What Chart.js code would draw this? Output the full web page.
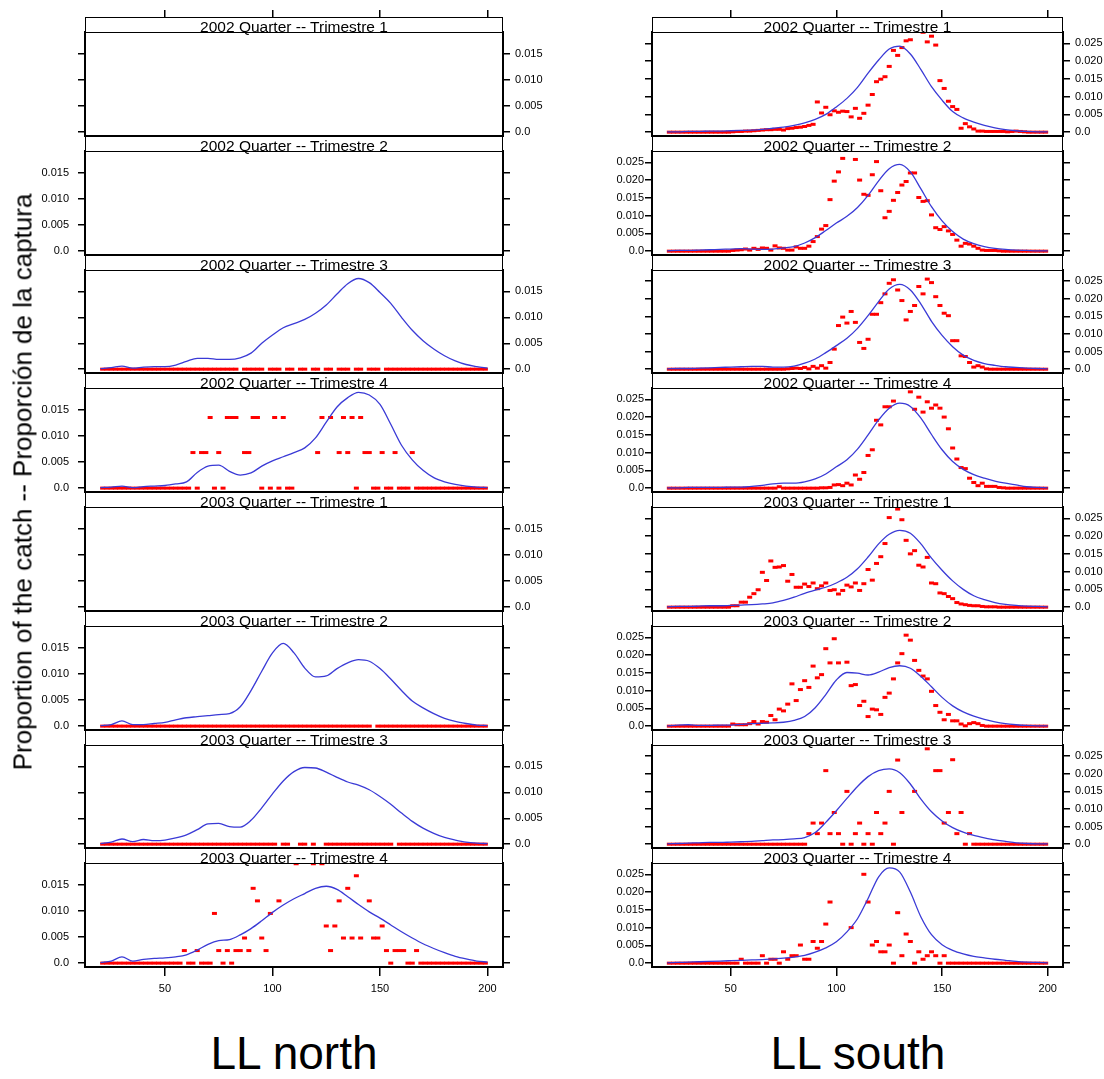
<!DOCTYPE html>
<html>
<head>
<meta charset="utf-8">
<title>LL north / LL south</title>
<script src="https://cdn.jsdelivr.net/npm/chart.js@4.4.1/dist/chart.umd.min.js"></script>
<style>
  body { margin: 0; background: #fff; font-family: "Liberation Sans", Arial, Helvetica, sans-serif; }
  #page { position: relative; width: 1104px; height: 1079px; overflow: hidden; background: #fff; }
  #page canvas { position: absolute; }
  .strip {
    position: absolute; box-sizing: border-box; border: 1px solid #000; background: #fff;
    text-align: center; font-size: 15.5px; line-height: 17px; color: #000; white-space: nowrap; z-index: 2;
  }
  #ytitle {
    position: absolute; left: 23px; top: 482px; transform: translate(-50%, -50%) rotate(-90deg);
    font-size: 26px; white-space: nowrap; color: #000; z-index: 3;
  }
  .colname { position: absolute; top: 1026px; font-size: 46px; transform: translateX(-50%); white-space: nowrap; color: #000; }
</style>
</head>
<body>
<div id="page">
  <div id="ytitle">Proportion of the catch -- Proporción de la captura</div>
  <div class="colname" style="left:294px">LL north</div>
  <div class="colname" style="left:858px">LL south</div>
</div>
<script>
// length classes (cm) of the observed proportions
const LENGTHS = [21,23,25,27,29,31,33,35,37,39,
  41,43,45,47,49,51,53,55,57,59,
  61,63,65,67,69,71,73,75,77,79,
  81,83,85,87,89,91,93,95,97,99,
  101,103,105,107,109,111,113,115,117,119,
  121,123,125,127,129,131,133,135,137,139,
  141,143,145,147,149,151,153,155,157,159,
  161,163,165,167,169,171,173,175,177,179,
  181,183,185,187,189,191,193,195,197,199];

// lengths at which the smoothed curve is given
const FIT_LENGTHS = [20,25,30,35,40,45,50,55,60,65,70,75,80,85,90,95,100,105,110,115,
  120,125,130,135,140,145,150,155,160,165,170,175,180,185,190,195,200];

const QUARTERS = ['2002 Quarter -- Trimestre 1', '2002 Quarter -- Trimestre 2',
  '2002 Quarter -- Trimestre 3', '2002 Quarter -- Trimestre 4',
  '2003 Quarter -- Trimestre 1', '2003 Quarter -- Trimestre 2',
  '2003 Quarter -- Trimestre 3', '2003 Quarter -- Trimestre 4'];

const X_TICKS = [50, 100, 150, 200];
const NORTH_Y_TICKS = [0, 0.005, 0.010, 0.015];
const NORTH_Y_LABELS = ['0.0', '0.005', '0.010', '0.015'];
const SOUTH_Y_TICKS = [0, 0.005, 0.010, 0.015, 0.020, 0.025];
const SOUTH_Y_LABELS = ['0.0', '0.005', '0.010', '0.015', '0.020', '0.025'];

// ---- LL north ----
const N02Q3_OBS = [0,0,0,0,0,0,0,0,0,0,
  0,0,0,0,0,0,0,0,0,0,
  0,0,0,0,0,0,0,0,0,0,
  0,0,0.03,0,0,0,0,0,0.03,0,
  0,0,0.03,0,0,0.03,0,0,0.03,0,
  0,0.03,0,0,0.03,0,0,0,0.03,0,
  0,0.03,0,0,0,0.03,0,0,0,0,
  0,0,0,0,0,0,0,0,0,0,
  0,0,0,0,0,0,0,0,0,0];
const N02Q3_FIT = [0.0001,0.0003,0.0006,0.0002,0.0004,0.0005,0.0005,0.0008,0.0015,0.0021,
  0.0021,0.0019,0.0019,0.0022,0.0031,0.0050,0.0066,0.0080,0.0088,0.0096,
  0.0108,0.0124,0.0145,0.0165,0.0175,0.0167,0.0148,0.0127,0.0100,0.0075,
  0.0055,0.0039,0.0026,0.0016,0.0009,0.0005,0.0002];

const N02Q4_OBS = [0,0,0,0,0,0,0,0,0,0,
  0,0,0,0,0,0,0,0,0,0,
  0,0.0068,0,0.0068,0.0068,0.0135,0,0.0068,0,0.0135,
  0.0135,0.0135,0.0203,0.0068,0.0068,0.0135,0.0135,0,0.0203,0,
  0.0135,0,0.0135,0,0,0.0203,0.0203,0.0203,0.0203,0.0203,
  0.0068,0.0135,0.0203,0.0135,0.0203,0.0068,0.0135,0.0068,0.0135,0,
  0.0135,0.0068,0.0068,0,0,0.0068,0,0,0.0068,0,
  0,0,0.0068,0,0,0,0,0,0,0,
  0,0,0,0,0,0,0,0,0,0];
const N02Q4_FIT = [0.0001,0.0002,0.0004,0.0001,0.0003,0.0004,0.0005,0.0008,0.0012,0.0030,
  0.0042,0.0044,0.0032,0.0025,0.0029,0.0042,0.0052,0.0060,0.0068,0.0077,
  0.0096,0.0126,0.0155,0.0173,0.0183,0.0178,0.0160,0.0122,0.0082,0.0054,
  0.0034,0.0020,0.0012,0.0007,0.0004,0.0002,0.0001];

const N03Q2_OBS = [0,0,0,0,0,0,0,0,0,0,
  0,0,0,0,0,0,0,0,0,0,
  0,0,0,0,0,0,0,0,0,0,
  0,0,0,0,0,0,0,0,0,0,
  0,0,0,0,0,0,0,0,0,0,
  0,0,0,0,0,0,0,0,0,0,
  0,0,0,0.03,0,0,0,0,0,0,
  0,0,0,0,0,0,0,0,0,0,
  0,0,0,0,0,0,0,0,0,0];
const N03Q2_FIT = [0.0001,0.0003,0.0010,0.0003,0.0003,0.0005,0.0007,0.0012,0.0016,0.0018,
  0.0020,0.0022,0.0024,0.0037,0.0068,0.0105,0.0140,0.0158,0.0140,0.0111,
  0.0094,0.0096,0.0110,0.0121,0.0127,0.0124,0.0110,0.0090,0.0068,0.0048,
  0.0035,0.0024,0.0015,0.0009,0.0005,0.0002,0.0001];

const N03Q3_OBS = [0,0,0,0,0,0,0,0,0,0,
  0,0,0,0,0,0,0,0,0,0,
  0,0,0,0,0,0,0,0,0,0,
  0,0,0,0,0,0,0,0,0,0,
  0,0.03,0,0,0.03,0.03,0,0,0.03,0,
  0.03,0.03,0,0,0,0,0,0,0,0,
  0,0,0,0,0,0,0,0,0.03,0,
  0,0,0,0,0,0,0,0,0,0,
  0,0,0,0,0,0,0,0,0,0];
const N03Q3_FIT = [0.0001,0.0004,0.0010,0.0005,0.0009,0.0007,0.0008,0.0012,0.0018,0.0028,
  0.0039,0.0040,0.0034,0.0033,0.0046,0.0070,0.0097,0.0122,0.0140,0.0148,
  0.0147,0.0139,0.0129,0.0120,0.0114,0.0105,0.0092,0.0077,0.0060,0.0044,
  0.0031,0.0021,0.0013,0.0008,0.0004,0.0002,0.0001];

const N03Q4_OBS = [0,0,0,0,0,0,0,0,0,0,
  0,0,0,0,0,0,0,0,0,0.0024,
  0,0,0.0024,0,0,0,0.0095,0.0024,0,0.0024,
  0,0.0024,0.0024,0.0048,0.0024,0.0143,0.0119,0.0048,0.0024,0.0095,
  0.0214,0.0119,0.0214,0.0214,0.0214,0.019,0.0214,0.0214,0.0214,0.019,
  0.0214,0.019,0.0071,0.0024,0.0071,0.0119,0.0048,0.0143,0.0048,0.0167,
  0.0048,0.0214,0.0119,0.0048,0.0048,0.0071,0.0024,0,0.0024,0.0024,
  0.0024,0,0,0.0024,0,0,0,0,0,0,
  0,0,0,0,0,0,0,0,0,0];
const N03Q4_FIT = [0.0001,0.0004,0.0012,0.0004,0.0007,0.0009,0.0010,0.0012,0.0016,0.0025,
  0.0036,0.0043,0.0045,0.0054,0.0066,0.0081,0.0097,0.0111,0.0123,0.0133,
  0.0143,0.0147,0.0141,0.0127,0.0112,0.0098,0.0086,0.0073,0.0060,0.0048,
  0.0037,0.0028,0.0020,0.0013,0.0008,0.0004,0.0002];

// ---- LL south ----
const S02Q1_OBS = [0,0,0,0,0,0,0,0,0,0,
  0,0,0,0,0,0.0001,0.0002,0.0002,0.0003,0.0003,
  0.0004,0.0005,0.0006,0.0007,0.0007,0.0008,0.0008,0.0006,0.0010,0.0011,
  0.0013,0.0014,0.0016,0.0019,0.0022,0.0085,0.0054,0.0070,0.0049,0.0060,
  0.0056,0.0059,0.0058,0.0043,0.0067,0.0039,0.0053,0.0076,0.0106,0.0142,
  0.0149,0.0156,0.0185,0.0230,0.0216,0.0238,0.0257,0.0260,0.0300,0.0300,
  0.0281,0.0254,0.0270,0.0245,0.0145,0.0123,0.0087,0.0072,0.0064,0.0011,
  0.0024,0.0015,0.0009,0.0003,0.0003,0.0002,0.0002,0.0002,0.0002,0.0002,
  0.0001,0.0002,0.0003,0.0002,0.0001,0,0,0,0,0];
const S02Q1_FIT = [0.0001,0.0001,0.0002,0.0002,0.0003,0.0003,0.0004,0.0005,0.0006,0.0008,
  0.0011,0.0014,0.0019,0.0026,0.0036,0.0050,0.0071,0.0095,0.0126,0.0166,
  0.0203,0.0234,0.0242,0.0220,0.0176,0.0128,0.0090,0.0058,0.0040,0.0028,
  0.0019,0.0012,0.0007,0.0004,0.0002,0.0001,0.0001];

const S02Q2_OBS = [0,0,0,0,0,0,0,0,0,0,
  0,0,0,0,0,0.0002,0.0003,0.0004,0.0006,0.0003,
  0.0008,0.0005,0.0009,0.0008,0.0003,0.0015,0.0009,0.0008,0.0003,0.0003,
  0.0012,0.0008,0.0008,0.0014,0.0027,0.0041,0.0062,0.0072,0.0145,0.0197,
  0.0223,0.0261,0.0310,0.0310,0.0258,0.0200,0.0160,0.0157,0.0215,0.0252,
  0.0170,0.0094,0.0112,0.0143,0.0165,0.0186,0.0196,0.0220,0.0220,0.0151,
  0.0140,0.0142,0.0102,0.0066,0.0061,0.0069,0.0057,0.0047,0.0031,0.0014,
  0.0022,0.0020,0.0014,0.0008,0.0003,0.0002,0.0002,0.0002,0.0001,0,
  0,0,0,0,0,0,0,0,0,0];
const S02Q2_FIT = [0.0001,0.0002,0.0002,0.0003,0.0004,0.0005,0.0006,0.0007,0.0006,0.0005,
  0.0006,0.0009,0.0013,0.0023,0.0038,0.0058,0.0079,0.0098,0.0123,0.0157,
  0.0198,0.0232,0.0244,0.0223,0.0175,0.0125,0.0085,0.0055,0.0034,0.0021,
  0.0013,0.0008,0.0005,0.0003,0.0002,0.0001,0.0001];

const S02Q3_OBS = [0,0,0,0,0,0,0,0,0,0,
  0,0,0,0,0,0,0,0,0,0,
  0,0,0,0,0,0,0,0,0.0001,0.0002,
  0.0003,0.0002,0.0005,0.0001,0.0008,0.0003,0.0010,0.0003,0.0019,0.0057,
  0.0124,0.0148,0.0131,0.0164,0.0133,0.0076,0.0059,0.0085,0.0156,0.0156,
  0.0189,0.0214,0.0244,0.0254,0.0225,0.0195,0.0140,0.0164,0.0181,0.0235,
  0.0214,0.0256,0.0246,0.0206,0.0181,0.0159,0.0152,0.0081,0.0081,0.0038,
  0.0036,0.0019,0.0006,0.0010,0.0006,0.0001,0,0,0,0,
  0,0,0,0,0,0,0,0,0,0];
const S02Q3_FIT = [0.0001,0.0002,0.0002,0.0003,0.0004,0.0005,0.0006,0.0007,0.0008,0.0008,
  0.0006,0.0006,0.0009,0.0017,0.0029,0.0047,0.0067,0.0088,0.0116,0.0152,
  0.0192,0.0228,0.0241,0.0225,0.0185,0.0136,0.0096,0.0064,0.0040,0.0025,
  0.0016,0.0011,0.0007,0.0005,0.0003,0.0002,0.0001];

const S02Q4_OBS = [0,0,0,0,0,0,0,0,0,0,
  0,0,0,0,0,0,0,0,0,0,
  0,0,0,0,0,0,0.0004,0,0,0,
  0,0,0,0,0,0,0.0001,0.0001,0.0002,0.0009,
  0.0010,0.0007,0.0014,0.0009,0.0037,0.0025,0.0044,0.0092,0.0108,0.0191,
  0.0178,0.0229,0.0229,0.0245,0.0300,0.0300,0.0300,0.0271,0.0222,0.0256,
  0.0214,0.0243,0.0225,0.0234,0.0225,0.0200,0.0167,0.0113,0.0082,0.0058,
  0.0055,0.0028,0.0016,0.0007,0.0014,0.0005,0.0005,0.0005,0.0002,0.0001,
  0,0,0,0,0,0,0,0,0,0];
const S02Q4_FIT = [0.0001,0.0001,0.0002,0.0002,0.0002,0.0002,0.0003,0.0003,0.0005,0.0008,
  0.0012,0.0014,0.0014,0.0018,0.0026,0.0040,0.0060,0.0080,0.0110,0.0150,
  0.0192,0.0225,0.0239,0.0230,0.0197,0.0151,0.0108,0.0075,0.0053,0.0038,
  0.0028,0.0020,0.0014,0.0009,0.0004,0.0002,0.0001];

const S03Q1_OBS = [0,0,0,0,0,0,0,0,0,0,
  0,0,0,0,0,0.0004,0.0004,0.0014,0.0014,0.0028,
  0.0038,0.0049,0.0098,0.0075,0.0130,0.0112,0.0113,0.0117,0.0073,0.0092,
  0.0056,0.0056,0.0065,0.0058,0.0068,0.0052,0.0060,0.0068,0.0047,0.0049,
  0.0037,0.0047,0.0062,0.0057,0.0068,0.0047,0.0066,0.0106,0.0076,0.0123,
  0.0142,0.0179,0.0252,0.0286,0.0276,0.0246,0.0188,0.0150,0.0159,0.0118,
  0.0113,0.0140,0.0068,0.0066,0.0040,0.0038,0.0030,0.0024,0.0013,0.0009,
  0.0007,0.0005,0.0004,0.0004,0.0002,0.0001,0.0001,0.0001,0,0,
  0,0,0,0,0,0,0,0,0,0];
const S03Q1_FIT = [0.0001,0.0002,0.0002,0.0003,0.0004,0.0004,0.0005,0.0006,0.0007,0.0009,
  0.0012,0.0019,0.0028,0.0039,0.0048,0.0056,0.0068,0.0084,0.0108,0.0141,
  0.0178,0.0205,0.0216,0.0208,0.0178,0.0138,0.0104,0.0074,0.0050,0.0032,
  0.0021,0.0013,0.0008,0.0005,0.0003,0.0002,0.0001];

const S03Q2_OBS = [0,0,0,0,0,0,0,0,0,0,
  0,0,0,0,0,0.0006,0.0004,0.0004,0.0004,0.0007,
  0.0013,0.0006,0.0013,0.0011,0.0030,0.0018,0.0048,0.0043,0.0062,0.0119,
  0.0072,0.0103,0.0128,0.0109,0.0169,0.0136,0.0145,0.0218,0.0178,0.0246,
  0.0178,0.0310,0.0180,0.0114,0.0117,0.0058,0.0070,0.0027,0.0048,0.0046,
  0.0033,0.0081,0.0093,0.0133,0.0178,0.0204,0.0256,0.0242,0.0185,0.0157,
  0.0141,0.0133,0.0098,0.0058,0.0039,0.0018,0.0033,0.0015,0.0015,0.0006,
  0.0001,0.0007,0.0010,0.0007,0.0002,0,0,0,0,0,
  0,0,0,0,0,0,0,0,0,0];
const S03Q2_FIT = [0.0001,0.0003,0.0004,0.0002,0.0002,0.0003,0.0003,0.0005,0.0007,0.0008,
  0.0009,0.0011,0.0016,0.0027,0.0052,0.0089,0.0130,0.0151,0.0149,0.0144,
  0.0152,0.0165,0.0170,0.0163,0.0140,0.0111,0.0081,0.0057,0.0040,0.0028,
  0.0019,0.0012,0.0007,0.0004,0.0002,0.0001,0.0001];

const S03Q3_OBS = [0,0,0,0,0,0,0,0,0,0,
  0,0,0,0,0,0,0,0,0,0,
  0,0,0,0,0,0,0,0,0,0,
  0,0,0,0.003,0.006,0.003,0.006,0.0209,0.003,0.009,
  0.003,0,0.015,0,0.003,0.006,0,0.003,0,0.009,
  0.003,0.006,0.015,0,0.0239,0.009,0.033,0.033,0.015,0.033,
  0.033,0.0271,0.033,0.0209,0.0209,0.006,0.009,0.024,0.003,0.009,
  0,0.003,0,0,0,0,0,0,0,0,
  0,0,0,0,0,0,0,0,0,0];
const S03Q3_FIT = [0.0001,0.0002,0.0003,0.0004,0.0005,0.0005,0.0006,0.0007,0.0008,0.0010,
  0.0012,0.0013,0.0015,0.0019,0.0033,0.0062,0.0095,0.0130,0.0164,0.0192,
  0.0209,0.0214,0.0203,0.0171,0.0128,0.0092,0.0066,0.0047,0.0034,0.0025,
  0.0018,0.0012,0.0008,0.0004,0.0002,0.0001,0.0001];

const S03Q4_OBS = [0,0,0,0,0,0,0,0,0,0,
  0,0,0,0,0,0,0,0.0011,0,0,
  0,0,0.0021,0,0.0011,0.0011,0,0.0032,0.0011,0.0021,
  0.0021,0.0051,0.0011,0.0011,0.0061,0.0042,0.0061,0.0110,0.0172,0.030,
  0.030,0.030,0.030,0.0100,0.030,0.030,0.0250,0.0172,0.0051,0.0061,
  0.0032,0.0032,0.0051,0,0.0142,0.0021,0.0082,0.0061,0,0.0032,
  0.0011,0.0021,0.0032,0.0021,0,0.0021,0,0,0,0,
  0,0,0,0,0,0,0,0,0,0,
  0,0,0,0,0,0,0,0,0,0];
const S03Q4_FIT = [0.0001,0.0002,0.0003,0.0004,0.0005,0.0006,0.0007,0.0008,0.0009,0.0010,
  0.0012,0.0014,0.0017,0.0022,0.0031,0.0043,0.0060,0.0088,0.0125,0.0182,
  0.0243,0.0268,0.0256,0.0200,0.0130,0.0080,0.0052,0.0036,0.0026,0.0019,
  0.0015,0.0011,0.0008,0.0005,0.0003,0.0002,0.0001];

// panels of each column, top to bottom (empty quarters have no samples)
const NORTH = [
  { obs: null, fit: null }, { obs: null, fit: null },
  { obs: N02Q3_OBS, fit: N02Q3_FIT }, { obs: N02Q4_OBS, fit: N02Q4_FIT },
  { obs: null, fit: null }, { obs: N03Q2_OBS, fit: N03Q2_FIT },
  { obs: N03Q3_OBS, fit: N03Q3_FIT }, { obs: N03Q4_OBS, fit: N03Q4_FIT }
];
const SOUTH = [
  { obs: S02Q1_OBS, fit: S02Q1_FIT }, { obs: S02Q2_OBS, fit: S02Q2_FIT },
  { obs: S02Q3_OBS, fit: S02Q3_FIT }, { obs: S02Q4_OBS, fit: S02Q4_FIT },
  { obs: S03Q1_OBS, fit: S03Q1_FIT }, { obs: S03Q2_OBS, fit: S03Q2_FIT },
  { obs: S03Q3_OBS, fit: S03Q3_FIT }, { obs: S03Q4_OBS, fit: S03Q4_FIT }
];

// layout
const FONT = '"Liberation Sans", Arial, Helvetica, sans-serif';
const RED = '#ff0000';
const BLUE = '#3a3ad6';
const X_MIN = 12.8, X_MAX = 207.2;
const TOP = 17.3, PITCH = 118.7, STRIP_H = 15, TOP_TICK_END = 10;
const COLUMNS = [
  { panels: NORTH, left: 85, right: 503, canvasLeft: 0, canvasRight: 580,
    ymin: -0.00074, ymax: 0.01914, ticks: NORTH_Y_TICKS, labels: NORTH_Y_LABELS, leftPad: 9 },
  { panels: SOUTH, left: 652, right: 1063, canvasLeft: 580, canvasRight: 1104,
    ymin: -0.00108, ymax: 0.02818, ticks: SOUTH_Y_TICKS, labels: SOUTH_Y_LABELS, leftPad: 1 }
];

Chart.defaults.font.family = FONT;
Chart.defaults.color = '#000';

const panelBox = {
  id: 'panelBox',
  afterDatasetsDraw(chart) {
    const { ctx, chartArea: a } = chart;
    ctx.save();
    ctx.lineWidth = 2;
    ctx.strokeStyle = '#000';
    ctx.strokeRect(a.left, a.top, a.right - a.left, a.bottom - a.top);
    ctx.restore();
  }
};

const page = document.getElementById('page');

function tickMarks(len) {
  return { display: true, drawOnChartArea: false, drawTicks: true, tickLength: len, color: '#000', lineWidth: 1.5 };
}

function drawPanel(col, row) {
  const c = COLUMNS[col];
  const p = c.panels[row];
  const first = row === 0;
  const last = row === c.panels.length - 1;
  const stripTop = Math.round(TOP + PITCH * row);
  const top = stripTop + STRIP_H;
  const bottom = Math.round(TOP + PITCH * (row + 1));
  const topAxis = first ? top - TOP_TICK_END : 0;
  const padTop = first ? 0 : 16;
  const botAxis = last ? 36 : 0;
  const padBot = last ? 0 : 16;
  const w = c.canvasRight - c.canvasLeft;
  const h = (bottom - top) + topAxis + padTop + botAxis + padBot;

  const cv = document.createElement('canvas');
  cv.width = w; cv.height = h;
  cv.style.left = c.canvasLeft + 'px';
  cv.style.top = (top - topAxis - padTop) + 'px';
  cv.style.width = w + 'px'; cv.style.height = h + 'px';
  page.appendChild(cv);

  const strip = document.createElement('div');
  strip.className = 'strip';
  strip.style.left = c.left + 'px';
  strip.style.top = stripTop + 'px';
  strip.style.width = (c.right - c.left) + 'px';
  strip.style.height = (STRIP_H + 1) + 'px';
  strip.textContent = QUARTERS[row];
  page.appendChild(strip);

  const labelsLeft = row % 2 === 1;
  const datasets = [];
  if (p.obs) {
    datasets.push({
      data: LENGTHS.map((x, i) => ({ x, y: p.obs[i] })),
      showLine: false, pointStyle: 'line', pointRadius: 2.5, pointHoverRadius: 2.5,
      pointBorderWidth: 3, borderColor: RED, backgroundColor: RED, order: 2
    });
  }
  if (p.fit) {
    datasets.push({
      data: FIT_LENGTHS.map((x, i) => ({ x, y: p.fit[i] })),
      showLine: true, pointRadius: 0, borderColor: BLUE, borderWidth: 1.3,
      cubicInterpolationMode: 'monotone', order: 1
    });
  }

  const yAxis = (pos, showLabels, pad, width) => ({
    type: 'linear', position: pos, min: c.ymin, max: c.ymax,
    afterBuildTicks: s => { s.ticks = c.ticks.map(v => ({ value: v })); },
    afterFit: s => { s.width = width; },
    grid: tickMarks(7),
    border: { display: false },
    ticks: { display: showLabels, padding: pad, color: '#000', font: { size: 11 },
      callback: (v, i) => c.labels[i] }
  });

  new Chart(cv, {
    type: 'scatter',
    data: { datasets },
    options: {
      responsive: false,
      animation: false,
      events: [],
      devicePixelRatio: 1,
      layout: { padding: { top: padTop, bottom: padBot, left: 0, right: 0 } },
      plugins: { legend: { display: false }, tooltip: { enabled: false }, title: { display: false } },
      scales: {
        x: {
          type: 'linear', position: 'bottom', min: X_MIN, max: X_MAX, display: last,
          afterBuildTicks: s => { s.ticks = X_TICKS.map(v => ({ value: v })); },
          afterFit: s => { s.height = botAxis; },
          grid: tickMarks(9),
          border: { display: false },
          ticks: { padding: 6, color: '#000', font: { size: 11 }, maxRotation: 0, autoSkip: false,
            callback: v => String(v) }
        },
        xt: {
          type: 'linear', position: 'top', min: X_MIN, max: X_MAX, display: first,
          afterBuildTicks: s => { s.ticks = X_TICKS.map(v => ({ value: v })); },
          afterFit: s => { s.height = topAxis; },
          grid: tickMarks(topAxis),
          border: { display: false },
          ticks: { display: false }
        },
        y: yAxis('left', labelsLeft, c.leftPad, c.left - c.canvasLeft),
        y2: yAxis('right', !labelsLeft, 5, c.canvasRight - c.right)
      }
    },
    plugins: [panelBox]
  });
}

COLUMNS.forEach((c, col) => c.panels.forEach((p, row) => drawPanel(col, row)));
</script>
</body>
</html>
